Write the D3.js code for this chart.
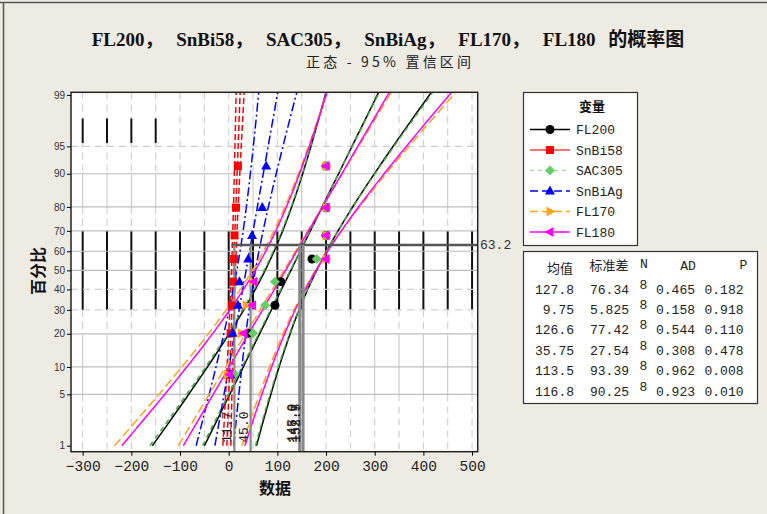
<!DOCTYPE html>
<html><head><meta charset="utf-8">
<script src="https://cdn.jsdelivr.net/npm/d3@7"></script>
<style>body{margin:0;background:#eeebe3;} svg{display:block}</style>
</head><body><svg id="c" width="767" height="514"></svg>
<script>
// ---------- data ----------
const seriesNames = ["FL200","SnBi58","SAC305","SnBiAg","FL170","FL180"];
const FL200  = [9,40,95,107,171,200,200,200];
const SnBi58 = [1,4,7,9,11,12,15,19];
const SAC305 = [12,50,75,95,181,200,200,200];
const SnBiAg = [3,8,19,22,40,48,69,77];
const FL170  = [-3,26,36,49,200,200,200,200];
const FL180  = [2,31,49,52,200,200,200,200];
const statMean = ["127.8","9.75","126.6","35.75","113.5","116.8"];
const statSD   = ["76.34","5.825","77.42","27.54","93.39","90.25"];
const statN    = ["8","8","8","8","8","8"];
const statAD   = ["0.465","0.158","0.544","0.308","0.962","0.923"];
const statP    = ["0.182","0.918","0.110","0.478","0.008","0.010"];
const xTicks = [-300,-200,-100,0,100,200,300,400,500];
const yTicks = [1,5,10,20,30,40,50,60,70,80,90,95,99];
const refPercent = 63.2;
const titleText = "FL200， SnBi58， SAC305， SnBiAg， FL170， FL180 的概率图";
const subtitleText = "正态 - 95% 置信区间";

const dataSets = [FL200,SnBi58,SAC305,SnBiAg,FL170,FL180];

// ---------- helpers ----------
function probit(p){
  const a=[-3.969683028665376e+01,2.209460984245205e+02,-2.759285104469687e+02,1.383577518672690e+02,-3.066479806614716e+01,2.506628277459239e+00];
  const b=[-5.447609879822406e+01,1.615858368580409e+02,-1.556989798598866e+02,6.680131188771972e+01,-1.328068155288572e+01];
  const c=[-7.784894002430293e-03,-3.223964580411365e-01,-2.400758277161838e+00,-2.549671010005008e+00,4.374664141464968e+00,2.938163982698783e+00];
  const d=[7.784695709041462e-03,3.224671290700398e-01,2.445134137142996e+00,3.754408661907416e+00];
  const pl=0.02425, ph=1-pl; let q,r;
  if(p<pl){q=Math.sqrt(-2*Math.log(p));return (((((c[0]*q+c[1])*q+c[2])*q+c[3])*q+c[4])*q+c[5])/((((d[0]*q+d[1])*q+d[2])*q+d[3])*q+1);}
  if(p<=ph){q=p-0.5;r=q*q;return (((((a[0]*r+a[1])*r+a[2])*r+a[3])*r+a[4])*r+a[5])*q/(((((b[0]*r+b[1])*r+b[2])*r+b[3])*r+b[4])*r+1);}
  q=Math.sqrt(-2*Math.log(1-p));return -(((((c[0]*q+c[1])*q+c[2])*q+c[3])*q+c[4])*q+c[5])/((((d[0]*q+d[1])*q+d[2])*q+d[3])*q+1);
}

const svg = d3.select("#c");
const W=767,H=514;
const P = {l:71, r:477.7, t:92.3, b:451.7};
const x = d3.scaleLinear().domain([-324, 511.6]).range([P.l, P.r]);
const y = d3.scaleLinear().domain([-2.406, 2.362]).range([P.b, P.t]);
const yP = p => y(probit(p/100));

const colors = ["#000000","#ff0000","#3fae3f","#0000ff","#ffa31a","#ff00ff"];
const markerFill = ["#000000","#ff0000","#66cc66","#0000ff","#ffa31a","#ff00ff"];
const plotDash = [null,"6,3","5,4","9,3,2,3","9,4",null];
const legDash = [null,null,"4,4","8,4","8,4",null];
const legColor = ["#000000","#ff4040","#a8dba8","#0000ff","#ffa31a","#ff00ff"];

const symbolPath = [
  "M-4.5,0A4.5,4.5 0 1,0 4.5,0A4.5,4.5 0 1,0 -4.5,0Z",
  "M-4,-4H4V4H-4Z",
  "M0,-5L5,0L0,5L-5,0Z",
  "M0,-5.5L5,3.5L-5,3.5Z",
  "M5.5,0L-3.5,-5L-3.5,5Z",
  "M-5.5,0L3.5,-5L3.5,5Z"
];

// outer frame
svg.append("rect").attr("x",0).attr("y",0).attr("width",W).attr("height",H).attr("fill","#eeebe3");
svg.append("line").attr("x1",0).attr("x2",W).attr("y1",2.5).attr("y2",2.5).attr("stroke","#555").attr("stroke-width",1.5);
svg.append("line").attr("x1",3.5).attr("x2",3.5).attr("y1",2).attr("y2",H).attr("stroke","#555").attr("stroke-width",1.5);

// titles
svg.append("text").attr("x",388).attr("y",46).attr("text-anchor","middle")
  .style("word-spacing","8px")
  .style("font-family","'Liberation Serif','Noto Sans CJK SC',serif").style("font-weight","bold").style("font-size","19px")
  .attr("fill","#111").text(titleText);
svg.append("text").attr("x",306).attr("y",67).attr("textLength",165).attr("lengthAdjust","spacing")
  .style("font-family","'Noto Sans CJK SC',sans-serif").style("font-size","14px")
  .attr("fill","#222").text(subtitleText);

// plot background
svg.append("rect").attr("x",P.l).attr("y",P.t).attr("width",P.r-P.l).attr("height",P.b-P.t).attr("fill","#fff");

const grid = svg.append("g");
const gridX = d3.range(-300, 501, 50);
const yTopP = 100*0.9909, yBotP = 0.8;
const bands = [
  {p0:yBotP,p1:5,s:"dash"},{p0:5,p1:20,s:"solid"},{p0:20,p1:30,s:"dash"},
  {p0:30,p1:70,s:"black"},{p0:70,p1:80,s:"dash"},{p0:80,p1:90,s:"solid"},{p0:90,p1:yTopP,s:"dash"}
];
const bandStyle = {
  dash:{c:"#c8c8c8",w:1,d:"7,5"}, solid:{c:"#c4c4c4",w:1,d:null}, black:{c:"#111",w:2,d:null}
};
bands.forEach(bd=>{
  const st = bandStyle[bd.s];
  grid.selectAll(null).data(gridX).enter().append("line")
    .attr("x1",d=>x(d)).attr("x2",d=>x(d))
    .attr("y1",bd.p1>=yTopP?P.t:yP(bd.p1)).attr("y2",bd.p0<=yBotP?P.b:yP(bd.p0))
    .attr("stroke",st.c).attr("stroke-width",st.w).attr("stroke-dasharray",st.d);
});
// odd black segments in top band
grid.selectAll(null).data(gridX.filter(v=>v<=-150)).enter().append("line")
  .attr("x1",d=>x(d)).attr("x2",d=>x(d)).attr("y1",yP(97.8)).attr("y2",yP(95.45))
  .attr("stroke","#111").attr("stroke-width",2);
// horizontal grid
const hSolid = [5,10,20,50,60,70,80,90], hDash = [30,40,95];
grid.selectAll(null).data(hSolid).enter().append("line")
  .attr("x1",P.l).attr("x2",P.r).attr("y1",d=>yP(d)).attr("y2",d=>yP(d))
  .attr("stroke","#bdbdbd").attr("stroke-width",1.2);
grid.selectAll(null).data(hDash).enter().append("line")
  .attr("x1",P.l).attr("x2",P.r).attr("y1",d=>yP(d)).attr("y2",d=>yP(d))
  .attr("stroke","#cfcfcf").attr("stroke-width",1.2).attr("stroke-dasharray","7,5");

// clip
svg.append("clipPath").attr("id","clip").append("rect")
  .attr("x",P.l).attr("y",P.t).attr("width",P.r-P.l).attr("height",P.b-P.t);
const gLines = svg.append("g").attr("clip-path","url(#clip)");

const zs = d3.range(probit(0.01), 2.3621, 0.01);
const means = statMean.map(Number), sds = statSD.map(Number), ns = statN.map(Number);
const line = d3.line().x(d=>x(d[0])).y(d=>y(d[1]));
dataSets.forEach((ds,i)=>{
  const m=means[i], s=sds[i], n=ns[i];
  const fit = zs.map(z=>[m+s*z, z]);
  const half = z => 1.96*s*Math.sqrt(1/n + z*z/(2*(n-1)));
  const lo = zs.map(z=>[m+s*z-half(z), z]);
  const hi = zs.map(z=>[m+s*z+half(z), z]);
  [fit,lo,hi].forEach(pts=>{
    gLines.append("path").attr("d",line(pts)).attr("fill","none")
      .attr("stroke",colors[i]).attr("stroke-width",1.5).attr("stroke-dasharray",plotDash[i]);
  });
});

// reference lines at 63.2%
const zRef = probit(refPercent/100);
const refVals = means.map((m,i)=>m+sds[i]*zRef);
const gRef = svg.append("g");
gRef.append("line").attr("x1",x(d3.min(refVals))-3).attr("x2",P.r)
  .attr("y1",y(zRef)).attr("y2",y(zRef)).attr("stroke","#555").attr("stroke-width",2.5);
gRef.selectAll(null).data(refVals).enter().append("line")
  .attr("x1",d=>x(d)).attr("x2",d=>x(d)).attr("y1",y(zRef)).attr("y2",P.b)
  .attr("stroke","#8a8a8a").attr("stroke-width",2.2);
gRef.selectAll(null).data(refVals).enter().append("text")
  .attr("transform",d=>`translate(${x(d)-3},${P.b-9}) rotate(-90)`)
  .style("font-family","'Liberation Mono',monospace").style("font-size","13px")
  .attr("fill","#222").text(d=>d.toFixed(1));
svg.append("text").attr("x",480).attr("y",y(zRef)+4.5)
  .style("font-family","'Liberation Mono',monospace").style("font-size","13px")
  .attr("fill","#333").text(String(refPercent));

// markers
const gPts = svg.append("g");
dataSets.forEach((ds,i)=>{
  const n = ds.length;
  gPts.selectAll(null).data(ds).enter().append("path")
    .attr("d",symbolPath[i])
    .attr("transform",(d,k)=>`translate(${x(d)},${yP(100*(k+1-0.3)/(n+0.4))})`)
    .attr("fill",markerFill[i]);
});

// border
svg.append("rect").attr("x",P.l).attr("y",P.t).attr("width",P.r-P.l).attr("height",P.b-P.t)
  .attr("fill","none").attr("stroke","#222").attr("stroke-width",1.5);

// axes
const xAxis = svg.append("g").attr("transform",`translate(0,${P.b})`)
  .call(d3.axisBottom(x).tickValues(xTicks).tickSize(4).tickPadding(5));
xAxis.select(".domain").remove();
xAxis.selectAll("text").style("font-family","'Liberation Mono',monospace").style("font-size","14.5px").attr("fill","#222");
const yAxis = svg.append("g").attr("transform",`translate(${P.l},0)`)
  .call(d3.axisLeft(y).tickValues(yTicks.map(p=>probit(p/100))).tickFormat((d,i)=>yTicks[i]).tickSize(4).tickPadding(2));
yAxis.select(".domain").remove();
yAxis.selectAll("text").style("font-family","'Liberation Sans',sans-serif").style("font-size","10px").attr("fill","#333");

svg.append("text").attr("x",275).attr("y",494).attr("text-anchor","middle")
  .style("font-family","'Noto Sans CJK SC',sans-serif").style("font-weight","bold").style("font-size","16px")
  .attr("fill","#111").text("数据");
svg.append("text").attr("transform","translate(44,271) rotate(-90)").attr("text-anchor","middle")
  .style("font-family","'Noto Sans CJK SC',sans-serif").style("font-weight","bold").style("font-size","16px")
  .attr("fill","#111").text("百分比");

// legend
const lg = svg.append("g");
lg.append("rect").attr("x",523.5).attr("y",92.5).attr("width",114).attr("height",153)
  .attr("fill","#fff").attr("stroke","#333").attr("stroke-width",1.2);
lg.append("text").attr("x",592).attr("y",111).attr("text-anchor","middle")
  .style("font-family","'Noto Sans CJK SC',sans-serif").style("font-weight","bold").style("font-size","13px")
  .attr("fill","#111").text("变量");
seriesNames.forEach((nm,i)=>{
  const yy = 129.5 + i*20.5;
  lg.append("line").attr("x1",530).attr("x2",570).attr("y1",yy).attr("y2",yy)
    .attr("stroke",legColor[i]).attr("stroke-width",1.5).attr("stroke-dasharray",legDash[i]);
  lg.append("path").attr("d",symbolPath[i]).attr("transform",`translate(550,${yy})`).attr("fill",markerFill[i]);
  lg.append("text").attr("x",576).attr("y",yy+4.5)
    .style("font-family","'Liberation Mono',monospace").style("font-size","13px")
    .attr("fill","#222").text(nm);
});

// stats table
const tb = svg.append("g");
tb.append("rect").attr("x",523.5).attr("y",251.5).attr("width",234).attr("height",152)
  .attr("fill","#fff").attr("stroke","#333").attr("stroke-width",1.2);
const hdrFont = "'Noto Sans CJK SC',sans-serif";
const monoFont = "'Liberation Mono',monospace";
[["均值",560,273,hdrFont],["标准差",609,270,hdrFont],["N",644,268,monoFont],["AD",688,270,monoFont],["P",743.5,269,monoFont]]
  .forEach(h=>{
    tb.append("text").attr("x",h[1]).attr("y",h[2]).attr("text-anchor","middle")
      .style("font-family",h[3]).style("font-size","13px").attr("fill","#222").text(h[0]);
  });
statMean.forEach((m,i)=>{
  const yy = 293.5 + i*20.4;
  const cols = [[m,574,"end",0],[statSD[i],629,"end",0],[statN[i],643.5,"middle",-5],[statAD[i],695,"end",0],[statP[i],743.5,"end",0]];
  cols.forEach(c=>{
    tb.append("text").attr("x",c[1]).attr("y",yy+c[3]).attr("text-anchor",c[2])
      .style("font-family",monoFont).style("font-size","13px").attr("fill","#222").text(c[0]);
  });
});
</script></body></html>
